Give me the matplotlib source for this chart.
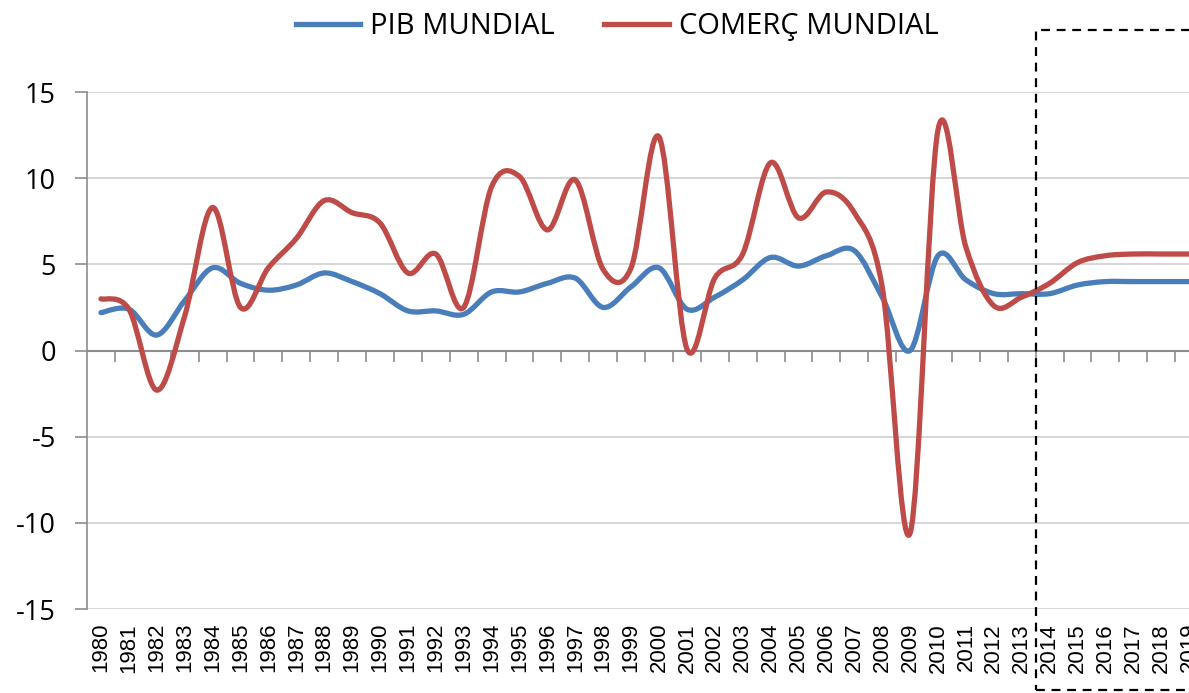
import matplotlib
matplotlib.use("Agg")
import matplotlib.pyplot as plt
from matplotlib.path import Path
from matplotlib.patches import PathPatch, Rectangle
from matplotlib.lines import Line2D
from matplotlib.transforms import blended_transform_factory
import numpy as np

plt.rcParams["axes.unicode_minus"] = False

years = [str(y) for y in range(1980, 2020)]
pib = [2.2, 2.4, 0.9, 2.9, 4.8, 3.9, 3.5, 3.8, 4.5, 4.0,
       3.3, 2.3, 2.3, 2.1, 3.4, 3.4, 3.9, 4.2, 2.5, 3.7,
       4.8, 2.4, 3.1, 4.1, 5.4, 4.9, 5.5, 5.8, 3.1, 0.0,
       5.5, 4.1, 3.3, 3.3, 3.3, 3.8, 4.0, 4.0, 4.0, 4.0]
comerc = [3.0, 2.4, -2.3, 2.0, 8.3, 2.5, 4.8, 6.5, 8.7, 8.0,
          7.4, 4.5, 5.6, 2.5, 9.5, 10.1, 7.0, 9.9, 4.7, 4.8,
          12.4, 0.1, 4.2, 5.6, 10.9, 7.7, 9.2, 8.0, 3.7, -10.6,
          12.8, 6.0, 2.6, 3.1, 3.9, 5.1, 5.5, 5.6, 5.6, 5.6]

BLUE = "#4A7EBB"
RED = "#BE4B48"


def smooth_path(xs, ys):
    # excel style smoothed line: cubic bezier through every point
    pts = np.column_stack([xs, ys]).astype(float)
    n = len(pts)
    verts = [pts[0]]
    codes = [Path.MOVETO]
    for i in range(n - 1):
        p0 = pts[max(i - 1, 0)]
        p1 = pts[i]
        p2 = pts[i + 1]
        p3 = pts[min(i + 2, n - 1)]
        c1 = p1 + (p2 - p0) / 6.0
        c2 = p2 - (p3 - p1) / 6.0
        verts += [c1, c2, p2]
        codes += [Path.CURVE4] * 3
    return Path(verts, codes)


fig = plt.figure(figsize=(11.89, 6.93), dpi=100)
ax = fig.add_axes([0.0732, 0.1212, 0.9386, 0.746])

x = np.arange(len(years))
for vals, col in [(pib, BLUE), (comerc, RED)]:
    ax.add_patch(PathPatch(smooth_path(x, vals), facecolor="none", edgecolor=col,
                           lw=3.8, capstyle="round", joinstyle="round", zorder=3))

ax.set_xlim(-0.5, len(years) - 0.5)
ax.set_ylim(-15, 15)
ax.set_yticks([-15, -10, -5, 0, 5, 10, 15])
ax.yaxis.grid(True, color="#D0D0D0", lw=1.2)
ax.set_axisbelow(True)

for s in ["top", "right"]:
    ax.spines[s].set_visible(False)
ax.spines["left"].set_color("#8C8C8C")
ax.spines["left"].set_linewidth(1.2)
ax.spines["bottom"].set_position(("data", 0))
ax.spines["bottom"].set_color("#8C8C8C")
ax.spines["bottom"].set_linewidth(1.5)

# tick marks between categories on the zero line
ax.set_xticks(np.arange(0.5, len(years) - 1, 1.0))
ax.tick_params(axis="x", direction="out", length=8, width=1.2, color="#8C8C8C",
               labelbottom=False)
ax.tick_params(axis="y", direction="out", length=8.5, width=1.2, color="#8C8C8C",
               labelsize=19.5, pad=14)
for lab in ax.get_yticklabels():
    lab.set_fontfamily("Open Sans")

# year labels at the bottom of the plot area
sec = ax.secondary_xaxis("bottom")
sec.set_xticks(x)
sec.set_xticklabels(years, rotation=90, fontsize=16, fontfamily="Liberation Sans")
sec.tick_params(length=0, pad=10)
sec.spines["bottom"].set_visible(False)

# dashed box around forecast years
tr = blended_transform_factory(ax.transData, fig.transFigure)
fig.add_artist(Rectangle((33.5, 1 - 690 / 693), 10, (690 - 30) / 693, transform=tr,
                         fill=False, ls=(0, (4, 3)), lw=1.6, ec="black", clip_on=False))

handles = [Line2D([], [], color=BLUE, lw=3.8), Line2D([], [], color=RED, lw=3.8)]
fig.legend(handles, ["PIB MUNDIAL", "COMERÇ MUNDIAL"], loc="center",
           bbox_to_anchor=(0.519, 0.962), ncol=2, frameon=False,
           prop={"family": "Open Sans", "size": 21}, handlelength=2.2,
           handletextpad=0.35, columnspacing=1.7)

fig.savefig("out.png", dpi=100)
